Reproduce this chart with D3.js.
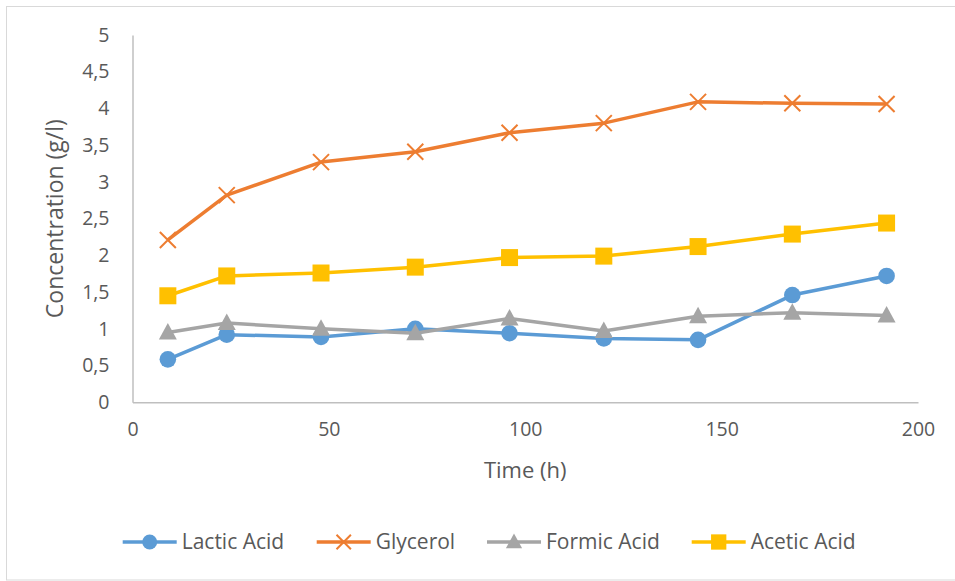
<!DOCTYPE html>
<html>
<head>
<meta charset="utf-8">
<script src="https://cdn.jsdelivr.net/npm/d3@7"></script>
<style>
  html, body { margin: 0; padding: 0; background: #fff; }
  svg { display: block; font-family: "Open Sans", "Noto Sans", sans-serif; }
</style>
</head>
<body>
<svg id="chart" width="955" height="581"></svg>
<script>
// Sampling times (h)
const times = [9, 24, 48, 72, 96, 120, 144, 168, 192];

// Concentrations (g/l) per compound
const lacticAcid = [0.585, 0.92, 0.89, 1.0, 0.94, 0.87, 0.85, 1.46, 1.72];
const glycerol   = [2.21, 2.82, 3.27, 3.41, 3.67, 3.80, 4.09, 4.07, 4.06];
const formicAcid = [0.95, 1.08, 1.0, 0.94, 1.14, 0.97, 1.17, 1.22, 1.18];
const aceticAcid = [1.45, 1.72, 1.76, 1.84, 1.97, 1.99, 2.12, 2.29, 2.44];

const seriesNames  = ["Lactic Acid", "Glycerol", "Formic Acid", "Acetic Acid"];
const seriesValues = [lacticAcid, glycerol, formicAcid, aceticAcid];
const seriesColors = ["#5B9BD5", "#ED7D31", "#A5A5A5", "#FFC000"];
const seriesMarkers = ["circle", "cross", "triangle", "square"];

const xTicks = [0, 50, 100, 150, 200];
const yTicks = [0, 0.5, 1, 1.5, 2, 2.5, 3, 3.5, 4, 4.5, 5];

const svg = d3.select("#chart");
const textColor = "#595959";
const axisColor = "#BFBFBF";

// Outer chart frame
svg.append("rect")
  .attr("x", 6.5).attr("y", 6.5)
  .attr("width", 960).attr("height", 573.5)
  .attr("fill", "#fff")
  .attr("stroke", "#D9D9D9").attr("stroke-width", 1);

const plot = { left: 132.5, right: 918, top: 35, bottom: 402.3 };

const x = d3.scaleLinear().domain([0, 200]).range([plot.left, plot.right]);
const y = d3.scaleLinear().domain([0, 5]).range([plot.bottom, plot.top]);

const fmt = v => String(v).replace(".", ",");

// Y axis
const yAxis = svg.append("g")
  .attr("transform", `translate(${plot.left},0)`)
  .call(d3.axisLeft(y).tickValues(yTicks).tickFormat(fmt).tickSize(0).tickPadding(23));
yAxis.select(".domain").attr("stroke", axisColor).attr("stroke-width", 1.5);
yAxis.selectAll("text")
  .attr("fill", textColor).attr("font-size", 19.5)
  .attr("font-family", "'Open Sans', sans-serif");

// X axis
const xAxis = svg.append("g")
  .attr("transform", `translate(0,${plot.bottom})`)
  .call(d3.axisBottom(x).tickValues(xTicks).tickFormat(fmt).tickSize(0).tickPadding(20));
xAxis.select(".domain").attr("stroke", axisColor).attr("stroke-width", 1.5);
xAxis.selectAll("text")
  .attr("fill", textColor).attr("font-size", 19.5)
  .attr("font-family", "'Open Sans', sans-serif");

// Axis titles
svg.append("text")
  .attr("transform", `translate(63,${(plot.top + plot.bottom) / 2}) rotate(-90)`)
  .attr("text-anchor", "middle")
  .attr("fill", textColor).attr("font-size", 23)
  .text("Concentration (g/l)");

svg.append("text")
  .attr("x", (plot.left + plot.right) / 2).attr("y", 478)
  .attr("text-anchor", "middle")
  .attr("fill", textColor).attr("font-size", 22)
  .text("Time (h)");

// Marker drawing helper
function drawMarker(g, type, color, s) {
  if (type === "circle") {
    g.append("circle").attr("r", 8.3 * s).attr("fill", color);
  } else if (type === "square") {
    const h = 8.5 * s;
    g.append("rect").attr("x", -h).attr("y", -h).attr("width", 2 * h).attr("height", 2 * h).attr("fill", color);
  } else if (type === "triangle") {
    g.append("path").attr("d", `M0,${-9.5 * s} L${9 * s},${7 * s} L${-9 * s},${7 * s} Z`).attr("fill", color);
  } else if (type === "cross") {
    const h = 8 * s;
    g.append("path").attr("d", `M${-h},${-h} L${h},${h} M${-h},${h} L${h},${-h}`)
      .attr("stroke", color).attr("stroke-width", 2).attr("fill", "none");
  }
}

const line = d3.line().x(d => x(d[0])).y(d => y(d[1]));

seriesValues.forEach((vals, i) => {
  const pts = times.map((t, j) => [t, vals[j]]);
  const g = svg.append("g");
  g.append("path")
    .attr("d", line(pts))
    .attr("fill", "none")
    .attr("stroke", seriesColors[i])
    .attr("stroke-width", 3.5)
    .attr("stroke-linejoin", "round");
  pts.forEach(p => {
    const m = g.append("g").attr("transform", `translate(${x(p[0])},${y(p[1])})`);
    drawMarker(m, seriesMarkers[i], seriesColors[i], 1);
  });
});

// Legend
const legendY = 542;
const legendStarts = [122.7, 316.7, 487, 691.7];
seriesNames.forEach((name, i) => {
  const g = svg.append("g").attr("transform", `translate(${legendStarts[i]},${legendY})`);
  g.append("line").attr("x1", 0).attr("x2", 54).attr("y1", 0).attr("y2", 0)
    .attr("stroke", seriesColors[i]).attr("stroke-width", 3.5);
  const m = g.append("g").attr("transform", "translate(27,0)");
  drawMarker(m, seriesMarkers[i], seriesColors[i], 0.9);
  g.append("text").attr("x", 59).attr("y", 0).attr("dy", "0.35em")
    .attr("fill", textColor).attr("font-size", 21)
    .text(name);
});
</script>
</body>
</html>
